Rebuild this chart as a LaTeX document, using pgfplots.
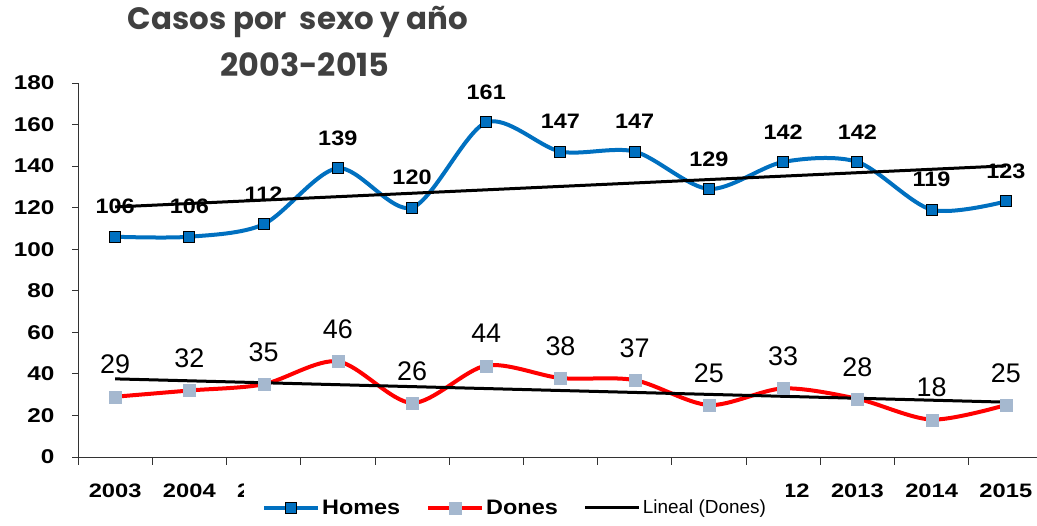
\documentclass[border=0pt]{standalone}
\usepackage{pgfplots}
\pgfplotsset{compat=1.18}
\usepackage{fontspec}
\setmainfont{Liberation Sans}
\newfontfamily\bw{Liberation Sans}[FakeStretch=1.12]
\newfontfamily\bt{Liberation Sans}[FakeStretch=1.22]
\newfontfamily\titlefont{Poppins}
\definecolor{homesblue}{HTML}{0070C0}
\definecolor{donesmark}{HTML}{A5B8CF}
\definecolor{titlegray}{HTML}{404040}

\pgfplotstableread{
x Homes Dones
0 106 29
1 106 32
2 112 35
3 139 46
4 120 26
5 161 44
6 147 38
7 147 37
8 129 25
9 142 33
10 142 28
11 119 18
12 123 25
}\datatable

\begin{document}
\begin{tikzpicture}[x=1bp,y=1bp]
\path[use as bounding box] (0,0) rectangle (1037,526);
\node[font=\titlefont\bfseries\fontsize{31}{31}\selectfont, text=titlegray] at (298,504) {Casos por\ \ sexo y año};
\node[font=\titlefont\bfseries\fontsize{32}{32}\selectfont, text=titlegray] at (305,461) {2003-2015};
\begin{axis}[
  at={(78bp,69bp)}, anchor=south west,
  scale only axis, width=959bp, height=374bp,
  xmin=-0.5, xmax=12.42, ymin=0, ymax=180,
  axis x line*=bottom, axis y line*=left,
  axis line style={line width=0.8bp, black!80},
  every tick/.style={line width=0.8bp, black!80},
  clip=false,
  ytick={0,20,...,180},
  xtick={0,...,12},
  xticklabels={2003,2004,2005,2006,2007,2008,2009,2010,2011,2012,2013,2014,2015},
  minor xtick={-0.5,0.5,...,11.5},
  tick align=outside,
  major tick length=6bp, minor tick length=8bp,
  major x tick style={draw=none},
  /pgf/number format/assume math mode=true,
  xticklabel style={font=\bt\bfseries\fontsize{19.5}{19.5}\selectfont, yshift=-17bp},
  yticklabel style={font=\bt\bfseries\fontsize{20}{20}\selectfont, xshift=-14bp},
  legend style={at={(0.4557,-0.136)}, anchor=center, draw=none, fill=white,
    font=\bw\bfseries\fontsize{21}{21}\selectfont,
    /tikz/every even column/.append style={column sep=24bp},
    inner xsep=18bp, inner ysep=22bp},
  legend columns=-1,
  legend image code/.code={\draw[mark repeat=2,mark phase=2,#1] plot coordinates {(0bp,0bp) (27bp,0bp) (54bp,0bp)};},
]
\addplot[smooth, homesblue, line width=4bp, mark=square*, mark size=5.5bp,
  mark options={fill=homesblue, draw=black, line width=1bp},
  nodes near coords,
  nodes near coords style={anchor=center, yshift=30bp, text=black, font=\bw\bfseries\fontsize{21}{21}\selectfont}]
  table[x=x, y=Homes] {\datatable};
\addlegendentry{Homes}
\addplot[smooth, red, line width=4bp, mark=square*, mark size=6bp,
  mark options={fill=donesmark, draw=donesmark, line width=0.1bp},
  nodes near coords,
  nodes near coords style={anchor=center, yshift=32bp, text=black, font=\fontsize{27}{27}\selectfont}]
  table[x=x, y=Dones] {\datatable};
\addlegendentry{Dones}
\addplot[black, line width=3bp, forget plot] coordinates {(0,120.34) (12,140.12)};
\addplot[black, line width=3bp] coordinates {(0,37.6) (12,26.4)};
\addlegendentry{\normalfont\fontsize{19}{19}\selectfont Lineal (Dones)}
\end{axis}
\end{tikzpicture}
\end{document}
